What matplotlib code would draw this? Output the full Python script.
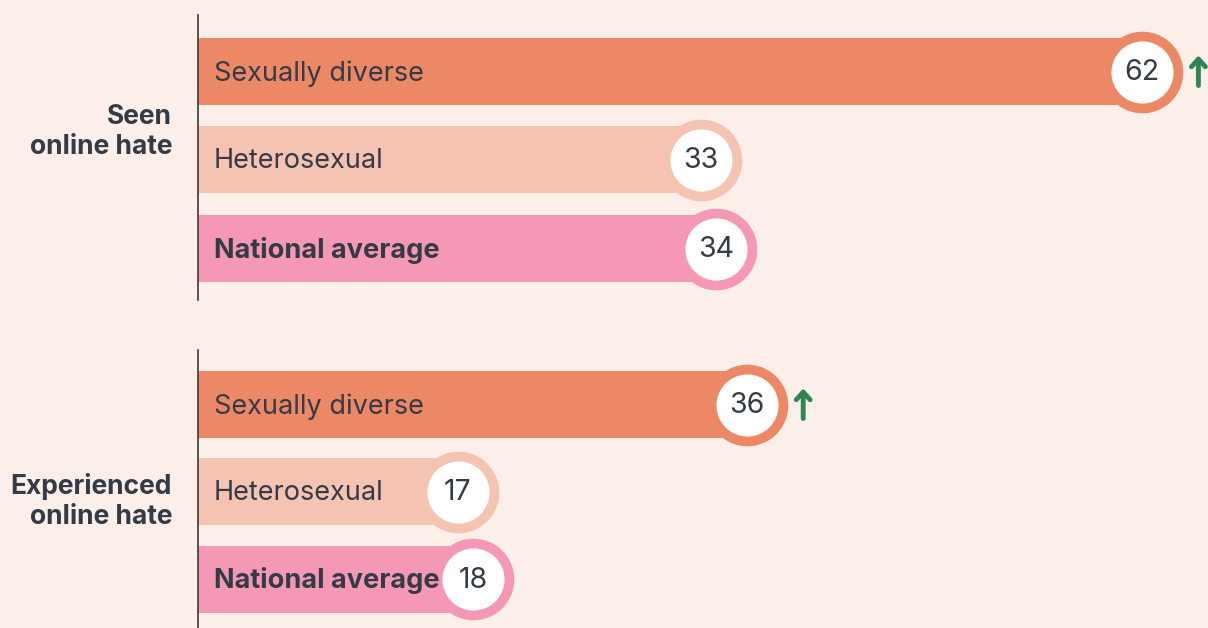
import matplotlib
matplotlib.use("Agg")
import matplotlib.pyplot as plt

# datos
grupos = ["Seen\nonline hate", "Experienced\nonline hate"]
categorias = ["Sexually diverse", "Heterosexual", "National average"]
valores_visto = [62, 33, 34]
valores_experimentado = [36, 17, 18]
sube = [True, False, False]  # flecha verde de aumento significativo

colores = ["#EC8865", "#F4C3B1", "#F598B6"]
fondo = "#FCEEE8"
texto_oscuro = "#353a47"
verde = "#2F8653"

plt.rcParams["font.family"] = ["Inter", "DejaVu Sans"]

fig = plt.figure(figsize=(12.08, 6.28), dpi=100, facecolor=fondo)
ax = fig.add_axes([0, 0, 1, 1])
ax.set_facecolor(fondo)

px = 15.2  # pixeles por unidad
ax.set_xlim(-198 / px, (1208 - 198) / px)
ax.set_ylim(628, 0)
ax.axis("off")

# posiciones verticales (pixeles)
y_barras = [[71.5, 159.5, 248.5], [404.5, 491.5, 579]]
y_grupo = [132.5, 502]
y_eje = [(15, 300), (350, 628)]
alto = 67

for g, vals in enumerate([valores_visto, valores_experimentado]):
    ax.plot([0, 0], y_eje[g], color="#3a3a3a", lw=1.2, zorder=5)
    ax.text(-26 / px, y_grupo[g], grupos[g], ha="right", va="center",
            fontsize=19, fontweight="bold", color=texto_oscuro, linespacing=1.2)
    for i, v in enumerate(vals):
        y = y_barras[g][i]
        ax.barh(y, v, height=alto, left=0, color=colores[i], zorder=1)
        ax.scatter([v + 0.1], [y], s=3450, color=colores[i], zorder=2, linewidths=0)
        ax.scatter([v + 0.1], [y], s=2000, color="white", zorder=3, linewidths=0)
        ax.text(v + 0.1, y + 1, str(v), ha="center", va="center", fontsize=20.5,
                color=texto_oscuro, zorder=4)
        ax.text(16 / px, y + 2, categorias[i], ha="left", va="center",
                fontsize=19.5, color=texto_oscuro,
                fontweight="bold" if i == 2 else "normal", zorder=4)
        if sube[i]:
            xa = v + 58 / px
            ax.annotate("", xy=(xa, y - 16), xytext=(xa, y + 14),
                        arrowprops=dict(arrowstyle="->,head_length=0.55,head_width=0.5",
                                        lw=3.5, color=verde, shrinkA=0, shrinkB=0),
                        zorder=4)

fig.savefig("out.png", dpi=100, facecolor=fondo)
